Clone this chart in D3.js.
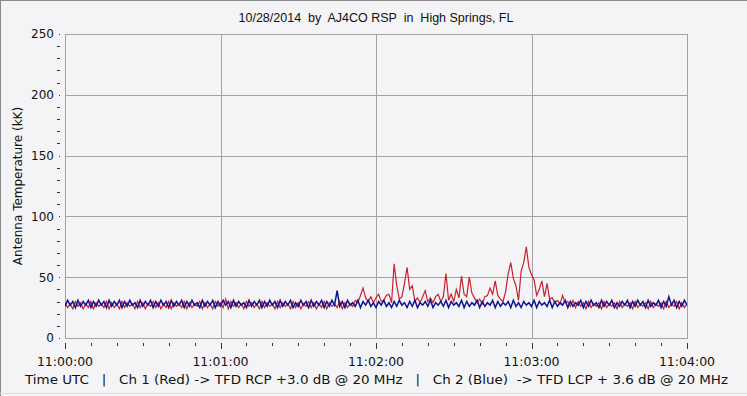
<!DOCTYPE html>
<html lang="en">
<head>
<meta charset="utf-8">
<title>Antenna temperature, 10/28/2014</title>
<script src="https://d3js.org/d3.v7.min.js"></script>
<style>
  body { margin: 0; background: #f4f4f6; }
  svg { display: block; }
  text.pre { white-space: pre; }
</style>
</head>
<body>
<script>
// chart text
var title = "10/28/2014  by  AJ4CO RSP  in  High Springs, FL";
var yTitle = "Antenna Temperature (kK)";
var footer = "Time UTC   |   Ch 1 (Red) -> TFD RCP +3.0 dB @ 20 MHz   |   Ch 2 (Blue)  -> TFD LCP + 3.6 dB @ 20 MHz";
var timeLabels = ["11:00:00", "11:01:00", "11:02:00", "11:03:00", "11:04:00"];
var yTicks = [0, 50, 100, 150, 200, 250];

// one sample per second, 11:00:00 .. 11:04:00
var ch1Red = [
  29,25,28,24,30,26,29,24,28,25,30,24,29,26,28,25,30,24,29,25,
  28,24,30,25,29,26,28,24,30,25,29,24,28,26,30,25,29,24,28,25,
  30,24,29,26,28,25,30,24,29,25,28,26,30,24,29,25,28,24,30,26,
  29,25,32,24,30,26,29,25,28,24,30,26,29,25,28,24,30,25,29,26,
  28,24,30,25,29,26,28,24,30,25,29,24,28,26,30,25,29,24,28,25,
  30,24,29,26,28,25,30,24,29,25,28,26,31,29,35,41,33,30,34,29,
  33,36,30,31,35,36,29,61,43,32,34,45,58,40,43,30,33,29,34,39,
  30,33,29,34,36,30,34,53,31,36,30,40,33,51,36,34,50,37,33,29,
  32,28,34,35,41,36,47,35,32,30,38,53,62,49,43,31,55,62,75,58,
  52,48,35,40,47,34,45,32,33,29,31,28,35,29,30,26,31,25,30,26,
  29,24,30,25,28,26,29,24,30,25,28,26,29,24,30,25,28,26,29,24,
  30,25,28,26,29,24,30,25,28,26,29,24,30,25,28,26,30,24,29,25,
  28
];
var ch2Blue = [
  26,31,27,30,25,31,26,30,27,31,25,30,26,31,27,30,25,31,26,30,
  27,31,25,30,26,31,27,29,25,31,26,30,27,31,25,30,26,31,27,30,
  25,31,26,30,27,31,25,30,26,31,27,29,25,31,26,30,27,31,25,30,
  26,31,27,30,25,31,26,30,27,29,25,31,26,30,27,31,25,30,26,31,
  27,30,25,31,26,30,27,31,25,29,26,31,27,30,25,31,26,30,27,31,
  25,30,26,31,27,39,26,30,25,31,27,29,26,31,25,30,27,31,26,29,
  25,30,27,31,26,29,25,30,26,31,27,29,25,30,26,31,25,29,27,30,
  26,31,25,29,27,30,26,31,25,30,27,29,26,31,25,30,26,29,27,31,
  25,30,26,29,27,31,25,30,26,29,27,30,25,31,26,29,25,30,27,29,
  26,31,25,30,27,29,26,31,25,30,26,29,27,31,25,30,26,29,27,31,
  25,30,26,31,27,29,25,31,26,30,27,31,25,29,26,30,27,31,25,30,
  26,31,27,30,25,31,26,29,27,31,25,30,26,34,27,31,25,30,26,31,
  27
];

var W = 747, H = 396;
var plot = { left: 65, right: 687, top: 34, bottom: 338 };
var gridColor = "#a3a3a3";
var textColor = "#111";

var svg = d3.select("body").append("svg")
  .attr("width", W)
  .attr("height", H);

svg.append("rect").attr("width", W).attr("height", H).attr("fill", "#f4f4f6");

// outer frame
svg.append("line").attr("x1", 0).attr("x2", W).attr("y1", 0.5).attr("y2", 0.5).attr("stroke", "#8a8a8a");
svg.append("line").attr("x1", 0.5).attr("x2", 0.5).attr("y1", 0).attr("y2", H).attr("stroke", "#8a8a8a");
svg.append("line").attr("x1", 0).attr("x2", W).attr("y1", 393.5).attr("y2", 393.5).attr("stroke", "#dcdcdc");

var x = d3.scaleLinear().domain([0, 240]).range([plot.left, plot.right]);
var y = d3.scaleLinear().domain([0, 250]).range([plot.bottom, plot.top]);

// grid
var g = svg.append("g").attr("shape-rendering", "crispEdges");
g.selectAll(".hgrid").data(yTicks).enter().append("line")
  .attr("x1", plot.left).attr("x2", plot.right)
  .attr("y1", function(d) { return Math.round(y(d)) + 0.5; })
  .attr("y2", function(d) { return Math.round(y(d)) + 0.5; })
  .attr("stroke", gridColor);
g.selectAll(".vgrid").data(d3.range(0, 241, 60)).enter().append("line")
  .attr("x1", function(d) { return Math.round(x(d)) + 0.5; })
  .attr("x2", function(d) { return Math.round(x(d)) + 0.5; })
  .attr("y1", plot.top).attr("y2", plot.bottom)
  .attr("stroke", gridColor);

// y ticks: labels with a dot, minor dashes every 10
g.selectAll(".yminor").data(d3.range(0, 251, 10).filter(function(d) { return d % 50 !== 0; }))
  .enter().append("line")
  .attr("x1", 57).attr("x2", 60)
  .attr("y1", function(d) { return Math.round(y(d)) + 0.5; })
  .attr("y2", function(d) { return Math.round(y(d)) + 0.5; })
  .attr("stroke", "#333");
g.selectAll(".ymajor").data(yTicks).enter().append("rect")
  .attr("x", 59).attr("width", 1).attr("height", 1)
  .attr("y", function(d) { return Math.round(y(d)); })
  .attr("fill", "#333");
svg.selectAll(".ylab").data(yTicks).enter().append("text")
  .attr("x", 54)
  .attr("y", function(d) { return y(d); })
  .attr("dy", "0.36em")
  .attr("text-anchor", "end")
  .attr("font-family", "DejaVu Sans, sans-serif")
  .attr("font-size", "12px")
  .attr("fill", textColor)
  .text(function(d) { return d; });

// x ticks every 10 s, longer on the minute
g.selectAll(".xtick").data(d3.range(0, 241, 10)).enter().append("line")
  .attr("x1", function(d) { return Math.round(x(d)) + 0.5; })
  .attr("x2", function(d) { return Math.round(x(d)) + 0.5; })
  .attr("y1", 343)
  .attr("y2", function(d) { return d % 60 === 0 ? 349 : 346; })
  .attr("stroke", "#333");
svg.selectAll(".xlab").data(timeLabels).enter().append("text")
  .attr("x", function(d, i) { return x(i * 60); })
  .attr("y", 366)
  .attr("text-anchor", "middle")
  .attr("font-family", "DejaVu Sans, sans-serif")
  .attr("font-size", "12.5px")
  .attr("fill", textColor)
  .text(function(d) { return d; });

// series
svg.append("clipPath").attr("id", "clip").append("rect")
  .attr("x", plot.left).attr("y", plot.top)
  .attr("width", plot.right - plot.left).attr("height", plot.bottom - plot.top);

var line = d3.line()
  .x(function(d, i) { return x(i); })
  .y(function(d) { return y(d); });

svg.append("path").datum(ch1Red)
  .attr("clip-path", "url(#clip)")
  .attr("fill", "none")
  .attr("stroke", "#c8202e")
  .attr("stroke-width", 1.2)
  .attr("d", line);
svg.append("path").datum(ch2Blue)
  .attr("clip-path", "url(#clip)")
  .attr("fill", "none")
  .attr("stroke", "#14148c")
  .attr("stroke-width", 1.5)
  .attr("d", line);

// plot border
g.append("rect")
  .attr("x", plot.left + 0.5).attr("y", plot.top + 0.5)
  .attr("width", plot.right - plot.left).attr("height", plot.bottom - plot.top)
  .attr("fill", "none").attr("stroke", gridColor);

// texts
svg.append("text")
  .attr("class", "pre")
  .attr("x", 376).attr("y", 22)
  .attr("text-anchor", "middle")
  .attr("font-family", "Liberation Sans, Arial, sans-serif")
  .attr("font-size", "12.5px")
  .attr("fill", textColor)
  .text(title);

svg.append("text")
  .attr("transform", "translate(22," + ((plot.top + plot.bottom) / 2) + ") rotate(-90)")
  .attr("text-anchor", "middle")
  .attr("font-family", "DejaVu Sans, sans-serif")
  .attr("font-size", "12px")
  .attr("fill", textColor)
  .text(yTitle);

svg.append("text")
  .attr("class", "pre")
  .attr("x", 25).attr("y", 384)
  .attr("textLength", 703)
  .attr("lengthAdjust", "spacingAndGlyphs")
  .attr("font-family", "DejaVu Sans, sans-serif")
  .attr("font-size", "12px")
  .attr("fill", textColor)
  .text(footer);
</script>
</body>
</html>
